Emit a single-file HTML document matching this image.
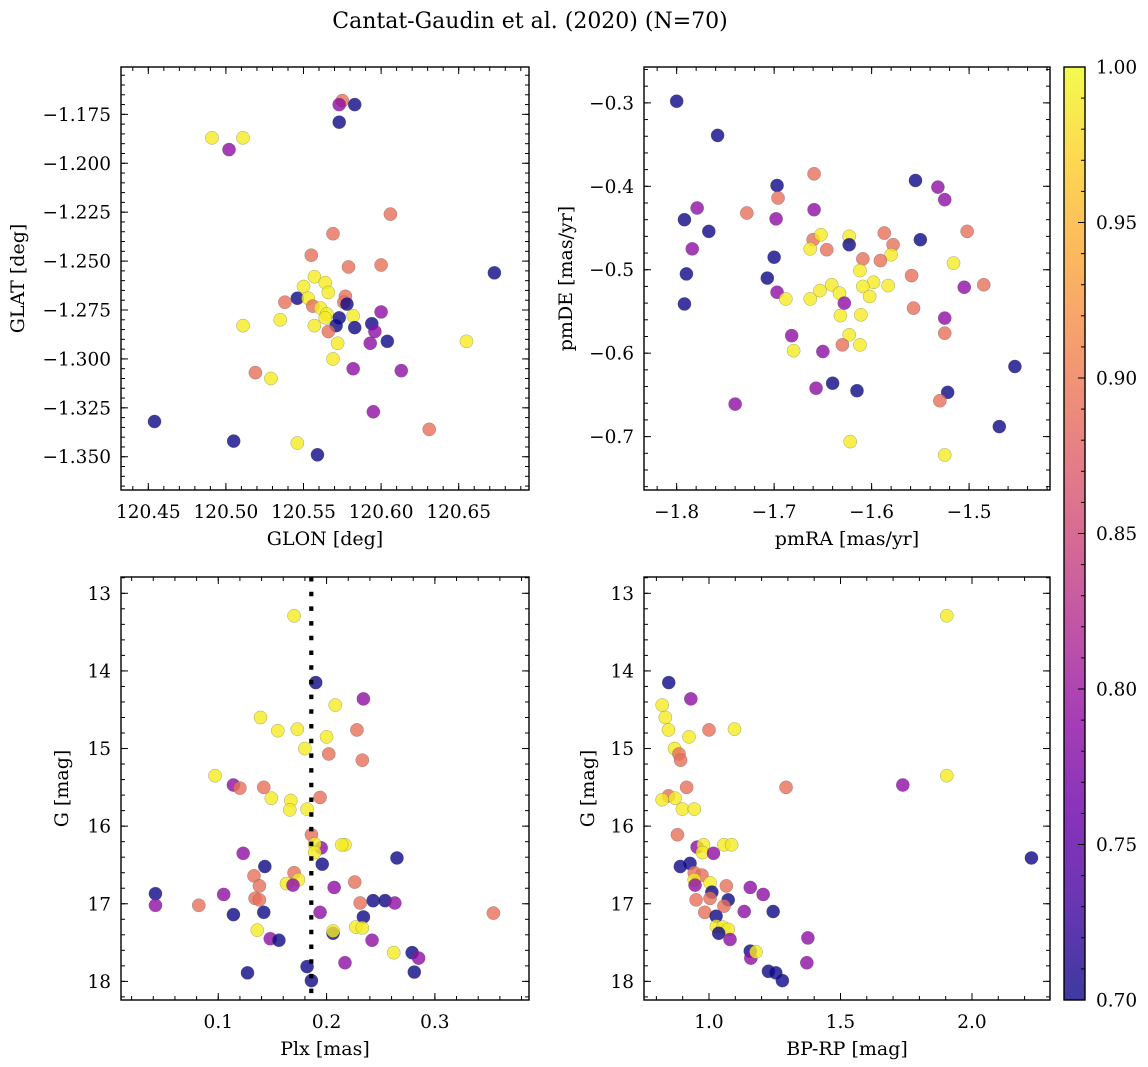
<!DOCTYPE html>
<html><head><meta charset="utf-8"><title>Cantat-Gaudin et al. (2020)</title>
<style>
html,body{margin:0;padding:0;background:#fff;}
svg{display:block;font-family:"DejaVu Serif","Liberation Serif",serif;}
</style></head>
<body>
<svg id="fig" width="1148" height="1067" viewBox="0 0 1148 1067" xmlns="http://www.w3.org/2000/svg">
<rect width="1148" height="1067" fill="#fff"/>
<text x="530" y="28" font-size="22" text-anchor="middle">Cantat-Gaudin et al. (2020) (N=70)</text>
</svg>
<script>
// ---- Panel 1: GLON vs GLAT ----
const glon = [120.575,120.573,120.583,120.573,120.491,120.511,120.502,120.606,120.569,120.555,120.579,120.600,120.673,120.557,120.564,120.550,120.566,120.577,120.546,120.553,120.538,120.576,120.556,120.578,120.561,120.565,120.600,120.564,120.573,120.582,120.535,120.511,120.557,120.571,120.583,120.594,120.596,120.566,120.604,120.572,120.593,120.655,120.569,120.582,120.613,120.519,120.529,120.595,120.454,120.631,120.505,120.546,120.559];
const glat = [-1.168,-1.170,-1.170,-1.179,-1.187,-1.187,-1.193,-1.226,-1.236,-1.247,-1.253,-1.252,-1.256,-1.258,-1.261,-1.263,-1.266,-1.268,-1.269,-1.269,-1.271,-1.271,-1.273,-1.272,-1.274,-1.277,-1.276,-1.279,-1.279,-1.278,-1.280,-1.283,-1.283,-1.283,-1.284,-1.282,-1.286,-1.286,-1.291,-1.292,-1.292,-1.291,-1.300,-1.305,-1.306,-1.307,-1.310,-1.327,-1.332,-1.336,-1.342,-1.343,-1.349];
const prob1 = [0.89,0.79,0.70,0.70,0.99,0.99,0.79,0.89,0.89,0.89,0.89,0.89,0.70,0.99,0.99,0.99,0.99,0.89,0.70,0.99,0.89,0.89,0.89,0.70,0.99,0.99,0.79,0.99,0.70,0.99,0.99,0.99,0.99,0.70,0.70,0.70,0.79,0.89,0.70,0.99,0.79,0.99,0.99,0.79,0.79,0.89,0.99,0.79,0.70,0.89,0.70,0.99,0.70];
// ---- Panel 2: pmRA vs pmDE ----
const pmra = [-1.800,-1.758,-1.659,-1.555,-1.532,-1.697,-1.696,-1.525,-1.779,-1.728,-1.659,-1.698,-1.792,-1.767,-1.502,-1.587,-1.550,-1.660,-1.652,-1.623,-1.623,-1.663,-1.646,-1.578,-1.580,-1.609,-1.591,-1.784,-1.700,-1.516,-1.612,-1.790,-1.707,-1.559,-1.598,-1.609,-1.583,-1.641,-1.505,-1.485,-1.602,-1.633,-1.653,-1.697,-1.688,-1.663,-1.628,-1.792,-1.557,-1.632,-1.611,-1.525,-1.525,-1.682,-1.623,-1.630,-1.612,-1.680,-1.650,-1.453,-1.640,-1.657,-1.615,-1.522,-1.530,-1.740,-1.469,-1.622,-1.525];
const pmde = [-0.298,-0.339,-0.385,-0.393,-0.401,-0.399,-0.414,-0.416,-0.426,-0.432,-0.428,-0.439,-0.440,-0.454,-0.454,-0.456,-0.464,-0.464,-0.458,-0.460,-0.470,-0.475,-0.476,-0.470,-0.482,-0.487,-0.489,-0.475,-0.485,-0.492,-0.501,-0.505,-0.510,-0.507,-0.515,-0.520,-0.519,-0.518,-0.521,-0.518,-0.532,-0.528,-0.525,-0.527,-0.535,-0.535,-0.540,-0.541,-0.546,-0.555,-0.554,-0.558,-0.576,-0.579,-0.578,-0.590,-0.590,-0.597,-0.598,-0.616,-0.636,-0.642,-0.645,-0.647,-0.657,-0.661,-0.688,-0.706,-0.722];
const prob2 = [0.70,0.70,0.89,0.70,0.79,0.70,0.89,0.79,0.79,0.89,0.79,0.79,0.70,0.70,0.89,0.89,0.70,0.89,0.99,0.99,0.70,0.99,0.89,0.89,0.99,0.89,0.89,0.79,0.70,0.99,0.99,0.70,0.70,0.89,0.99,0.99,0.99,0.99,0.79,0.89,0.99,0.99,0.99,0.79,0.99,0.99,0.79,0.70,0.89,0.99,0.99,0.79,0.89,0.79,0.99,0.89,0.99,0.99,0.79,0.70,0.70,0.79,0.70,0.70,0.89,0.79,0.70,0.99,0.99];
// ---- Panel 3: Plx vs G ----
const plx = [0.170,0.190,0.234,0.208,0.139,0.155,0.173,0.200,0.228,0.180,0.202,0.233,0.097,0.114,0.120,0.142,0.149,0.194,0.167,0.166,0.182,0.186,0.195,0.189,0.189,0.217,0.214,0.123,0.265,0.196,0.143,0.170,0.133,0.174,0.163,0.169,0.138,0.226,0.207,0.042,0.105,0.134,0.138,0.243,0.254,0.263,0.231,0.042,0.082,0.114,0.142,0.194,0.354,0.234,0.206,0.206,0.227,0.233,0.136,0.148,0.156,0.242,0.262,0.279,0.285,0.217,0.182,0.127,0.281,0.186];
const g3 = [13.29,14.15,14.36,14.44,14.60,14.77,14.75,14.85,14.76,15.00,15.07,15.15,15.35,15.47,15.51,15.50,15.64,15.63,15.67,15.79,15.78,16.11,16.28,16.23,16.34,16.24,16.24,16.35,16.41,16.49,16.52,16.60,16.64,16.69,16.74,16.76,16.77,16.72,16.79,16.87,16.88,16.93,16.95,16.96,16.96,16.99,16.99,17.02,17.02,17.14,17.11,17.11,17.12,17.17,17.38,17.35,17.30,17.31,17.34,17.45,17.47,17.47,17.63,17.63,17.70,17.76,17.81,17.89,17.88,17.99];
const prob3 = [0.99,0.70,0.79,0.99,0.99,0.99,0.99,0.99,0.89,0.99,0.89,0.89,0.99,0.79,0.89,0.89,0.99,0.89,0.99,0.99,0.99,0.89,0.79,0.99,0.99,0.99,0.99,0.79,0.70,0.70,0.70,0.89,0.89,0.99,0.99,0.79,0.89,0.89,0.79,0.70,0.79,0.89,0.89,0.70,0.70,0.79,0.89,0.79,0.89,0.70,0.70,0.79,0.89,0.70,0.70,0.99,0.99,0.99,0.99,0.79,0.70,0.79,0.99,0.70,0.79,0.79,0.70,0.70,0.70,0.70];
const plxRef = [0.1859];
// ---- Panel 4: BP-RP vs G ----
const bprp = [1.904,0.847,0.931,0.822,0.834,0.846,1.000,1.097,0.924,0.869,0.886,0.892,1.904,1.737,1.293,0.915,0.846,0.822,0.871,0.899,0.944,0.880,0.955,0.979,0.975,1.017,1.057,1.086,2.226,0.928,0.891,0.944,0.973,0.944,0.947,1.004,1.066,1.157,1.206,1.011,0.951,1.004,1.073,1.057,0.984,1.134,1.244,1.027,1.028,1.053,1.073,1.037,1.080,1.376,1.157,1.159,1.179,1.372,1.226,1.254,1.279];
const g4 = [13.29,14.15,14.36,14.44,14.60,14.76,14.76,14.75,14.85,15.00,15.07,15.15,15.35,15.47,15.50,15.50,15.61,15.66,15.64,15.78,15.78,16.11,16.27,16.24,16.34,16.35,16.24,16.24,16.41,16.48,16.52,16.60,16.63,16.69,16.76,16.73,16.77,16.79,16.88,16.85,16.95,16.93,16.95,17.03,17.11,17.10,17.10,17.16,17.29,17.30,17.33,17.38,17.46,17.44,17.61,17.70,17.62,17.76,17.87,17.89,17.99];
const prob4 = [0.99,0.70,0.79,0.99,0.99,0.99,0.89,0.99,0.99,0.99,0.89,0.89,0.99,0.79,0.89,0.89,0.89,0.99,0.99,0.99,0.99,0.89,0.79,0.99,0.99,0.79,0.99,0.99,0.70,0.70,0.70,0.89,0.89,0.99,0.79,0.99,0.89,0.79,0.79,0.70,0.89,0.89,0.70,0.89,0.89,0.79,0.70,0.70,0.99,0.99,0.99,0.70,0.79,0.79,0.70,0.79,0.99,0.79,0.70,0.70,0.70];
// colorbar
const cbTicks = [0.70,0.75,0.80,0.85,0.90,0.95,1.00];

const NS = "http://www.w3.org/2000/svg";
const svg = document.getElementById('fig');
const TICK_FS = 18.5, LABEL_FS = 19;
function mk(tag, attrs, parent){
  const e = document.createElementNS(NS, tag);
  for (const k in attrs) e.setAttribute(k, attrs[k]);
  (parent||svg).appendChild(e);
  return e;
}
const stops = ['#0d0887','#41049d','#6a00a8','#8f0da4','#b12a90','#cc4778','#e16462','#f2844b','#fca636','#fcce25','#f0f921'];
function hex(h){return [parseInt(h.substr(1,2),16),parseInt(h.substr(3,2),16),parseInt(h.substr(5,2),16)];}
function plasma(t){
  t=Math.max(0,Math.min(1,t));
  const f=t*10, i=Math.min(9,Math.floor(f)), r=f-i;
  const a=hex(stops[i]), b=hex(stops[i+1]);
  return 'rgb('+a.map((v,j)=>Math.round(v+(b[j]-v)*r)).join(',')+')';
}
function cmap(p){return plasma((p-0.70)/0.30);}
function fmt(v,d){const s=Math.abs(v).toFixed(d);return (v<-1e-9?'\u2212':'')+s;}

function panel(cfg){
  const {x0,x1,y0,y1,xmin,xmax,ymin,ymax,name} = cfg;
  const sx = v => x0 + (v-xmin)/(xmax-xmin)*(x1-x0);
  const sy = cfg.invert ? (v => y0 + (v-ymin)/(ymax-ymin)*(y1-y0)) : (v => y1 - (v-ymin)/(ymax-ymin)*(y1-y0));
  const g = mk('g',{});
  
  
  const pts = mk('g',{},g);
  
  
  for (let i=0;i<cfg.xs.length;i++){
    const c = mk('circle',{cx:sx(cfg.xs[i]).toFixed(2),cy:sy(cfg.ys[i]).toFixed(2),r:6.6,fill:cmap(cfg.ps[i]),'fill-opacity':0.8,stroke:'#555','stroke-opacity':0.5,'stroke-width':0.5},pts);
    
    
  }
  if (cfg.extra) cfg.extra(g,sx,sy);
  const tg = mk('g',{stroke:'#000','stroke-width':1},g);
  
  
  function mult(a,b,s){const out=[];const k0=Math.ceil(a/s-1e-6),k1=Math.floor(b/s+1e-6);for(let k=k0;k<=k1;k++)out.push(k*s);return out;}
  const lo=Math.min(xmin,xmax), hi=Math.max(xmin,xmax);
  mult(lo,hi,cfg.xminor).forEach(v=>{const x=sx(v);mk('line',{x1:x,x2:x,y1:y1,y2:y1-4},tg);mk('line',{x1:x,x2:x,y1:y0,y2:y0+4},tg);});
  mult(Math.min(ymin,ymax),Math.max(ymin,ymax),cfg.yminor).forEach(v=>{const y=sy(v);mk('line',{x1:x0,x2:x0+4,y1:y,y2:y},tg);mk('line',{x1:x1,x2:x1-4,y1:y,y2:y},tg);});
  mult(lo,hi,cfg.xmajor).forEach(v=>{const x=sx(v);mk('line',{x1:x,x2:x,y1:y1,y2:y1-7},tg);mk('line',{x1:x,x2:x,y1:y0,y2:y0+7},tg);
    const t=mk('text',{x:x,y:y1+28,'font-size':TICK_FS,'text-anchor':'middle',stroke:'none',fill:'#000'},g);t.textContent=fmt(v,cfg.xdec);
    
    });
  mult(Math.min(ymin,ymax),Math.max(ymin,ymax),cfg.ymajor).forEach(v=>{const y=sy(v);mk('line',{x1:x0,x2:x0+7,y1:y,y2:y},tg);mk('line',{x1:x1,x2:x1-7,y1:y,y2:y},tg);
    const t=mk('text',{x:x0-10,y:y+6.5,'font-size':TICK_FS,'text-anchor':'end',fill:'#000'},g);t.textContent=fmt(v,cfg.ydec);
    
    });
  const fr = mk('rect',{x:x0,y:y0,width:x1-x0,height:y1-y0,fill:'none',stroke:'#000','stroke-width':1.4},g);
  
  
  const xl = mk('text',{x:(x0+x1)/2,y:y1+55,'font-size':LABEL_FS,'text-anchor':'middle'},g); xl.textContent=cfg.xlabel;
  
  
  const yc=(y0+y1)/2;
  const yl = mk('text',{x:cfg.ylx,y:yc,'font-size':LABEL_FS,'text-anchor':'middle',transform:'rotate(-90 '+cfg.ylx+' '+yc+')'},g); yl.textContent=cfg.ylabel;
  
  
}

panel({name:'glon-glat-panel',x0:121,x1:529,y0:67,y1:490,xmin:120.4324,xmax:120.6953,ymin:-1.367,ymax:-1.1508,
  xs:glon,ys:glat,ps:prob1,xmajor:0.05,xminor:0.01,ymajor:0.025,yminor:0.005,xdec:2,ydec:3,
  xlabel:'GLON [deg]',ylabel:'GLAT [deg]',ylx:24});
panel({name:'proper-motion-panel',x0:644,x1:1050,y0:67,y1:490,xmin:-1.8335,xmax:-1.417,ymin:-0.764,ymax:-0.257,
  xs:pmra,ys:pmde,ps:prob2,xmajor:0.1,xminor:0.02,ymajor:0.1,yminor:0.02,xdec:1,ydec:1,
  xlabel:'pmRA [mas/yr]',ylabel:'pmDE [mas/yr]',ylx:572});
panel({name:'parallax-mag-panel',x0:121,x1:529,y0:577,y1:1000,xmin:0.0102,xmax:0.3869,ymin:12.79,ymax:18.24,invert:true,
  xs:plx,ys:g3,ps:prob3,xmajor:0.1,xminor:0.02,ymajor:1,yminor:0.2,xdec:1,ydec:0,
  xlabel:'Plx [mas]',ylabel:'G [mag]',ylx:68,
  extra:(g,sx,sy)=>{plxRef.forEach(v=>{const l=mk('line',{x1:sx(v),x2:sx(v),y1:sy(12.79),y2:sy(18.24),stroke:'#000','stroke-width':4.2,'stroke-dasharray':'4.5 10.2'},g);
    
    });}});
panel({name:'cmd-panel',x0:644,x1:1050,y0:577,y1:1000,xmin:0.7529,xmax:2.2966,ymin:12.79,ymax:18.24,invert:true,
  xs:bprp,ys:g4,ps:prob4,xmajor:0.5,xminor:0.1,ymajor:1,yminor:0.2,xdec:1,ydec:0,
  xlabel:'BP-RP [mag]',ylabel:'G [mag]',ylx:594});

(function(){
  const cx0=1064,cx1=1085,cy0=67,cy1=1000;
  const defs=mk('defs',{});
  const lg=mk('linearGradient',{id:'plasmaGrad',x1:0,y1:1,x2:0,y2:0},defs);
  for(let i=0;i<=20;i++){mk('stop',{offset:(i/20),'stop-color':plasma(i/20)},lg);}
  const cb=mk('g',{});
  
  
  mk('rect',{x:cx0,y:cy0,width:cx1-cx0,height:cy1-cy0,fill:'url(#plasmaGrad)','fill-opacity':0.8},cb);
  const sy=v=>cy1-(v-0.70)/0.30*(cy1-cy0);
  for(let k=70;k<=100;k++){const y=sy(k/100);mk('line',{x1:cx1,x2:cx1-(k%5===0?7:4),y1:y,y2:y,stroke:'#000','stroke-width':1},cb);}
  cbTicks.forEach(v=>{const t=mk('text',{x:cx1+11,y:sy(v)+6.5,'font-size':TICK_FS},cb);t.textContent=v.toFixed(2);
    
    });
  mk('rect',{x:cx0,y:cy0,width:cx1-cx0,height:cy1-cy0,fill:'none',stroke:'#000','stroke-width':1.4},cb);
})();
</script>
</body></html>
